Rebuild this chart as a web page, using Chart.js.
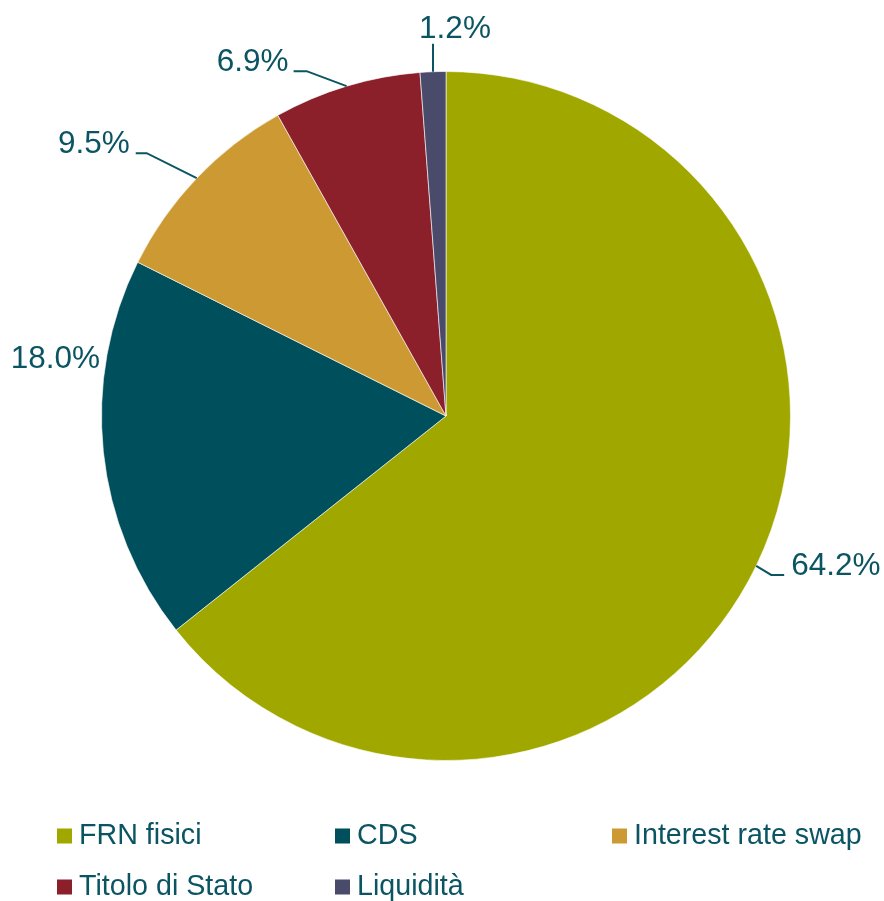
<!DOCTYPE html>
<html>
<head>
<meta charset="utf-8">
<title>Composizione del portafoglio</title>
<script src="https://cdn.jsdelivr.net/npm/chart.js@4/dist/chart.umd.min.js"></script>
<style>
  html, body { margin: 0; padding: 0; background: #ffffff; }
  #wrap { width: 884px; height: 901px; }
</style>
</head>
<body>
<div id="wrap"><canvas id="pie" width="884" height="901"></canvas></div>
<script>
// Portfolio composition (percent)
const categories = ['FRN fisici', 'CDS', 'Interest rate swap', 'Titolo di Stato', 'Liquidità'];
const shares = [64.2, 18.0, 9.5, 6.9, 1.2];
const sliceColors = ['#A0A800', '#004F5C', '#CC9933', '#8B1F2A', '#4A4A6B'];

const textColor = '#0B5563';
const fontFamily = '"Liberation Sans", Arial, Helvetica, sans-serif';

// Placement of each percentage label relative to the outer edge of its slice
// (elbow = bend of the leader line, run = horizontal part, line:false = no leader)
const labelLayout = [
  { line: true,  elbow: [15, 9],    run: 13,  align: 'left',   gap: 7 },
  { line: false, offset: [-48, -84], align: 'center' },
  { line: true,  elbow: [-50, -25], run: -11, align: 'right',  gap: 6 },
  { line: true,  elbow: [-40, -15], run: -13, align: 'right',  gap: 5 },
  { line: true,  elbow: [0, -28],   run: 0,   align: 'center', gap: 6, above: true, shiftX: 22 }
];

const pctLabels = {
  id: 'pctLabels',
  afterDatasetsDraw(chart) {
    const ctx = chart.ctx;
    const arcs = chart.getDatasetMeta(0).data;
    ctx.save();
    ctx.font = '31.5px ' + fontFamily;
    ctx.fillStyle = textColor;
    ctx.strokeStyle = textColor;
    ctx.lineWidth = 2;
    ctx.textBaseline = 'alphabetic';
    arcs.forEach((arc, i) => {
      const p = arc.getProps(['x', 'y', 'startAngle', 'endAngle', 'outerRadius'], true);
      const mid = (p.startAngle + p.endAngle) / 2;
      const ex = p.x + Math.cos(mid) * p.outerRadius;
      const ey = p.y + Math.sin(mid) * p.outerRadius;
      const L = labelLayout[i];
      const txt = shares[i].toFixed(1) + '%';
      if (!L.line) {
        ctx.textAlign = L.align;
        ctx.fillText(txt, ex + L.offset[0], ey + L.offset[1]);
        return;
      }
      const bx = ex + L.elbow[0], by = ey + L.elbow[1];
      const hx = bx + L.run;
      ctx.beginPath();
      ctx.moveTo(ex, ey);
      ctx.lineTo(bx, by);
      if (L.run !== 0) ctx.lineTo(hx, by);
      ctx.stroke();
      ctx.textAlign = L.align;
      if (L.above) {
        ctx.fillText(txt, hx + (L.shiftX || 0), by - L.gap);
      } else if (L.align === 'left') {
        ctx.fillText(txt, hx + L.gap, by);
      } else {
        ctx.fillText(txt, hx - L.gap, by);
      }
    });
    ctx.restore();
  }
};

// Three-column legend under the pie (slightly narrow lettering)
const gridLegend = {
  id: 'gridLegend',
  afterDraw(chart) {
    const ctx = chart.ctx;
    const colX = [57, 335, 612];
    const rowY = [836, 887];
    const box = 15;
    const squeeze = 0.955;
    ctx.save();
    ctx.font = '30px ' + fontFamily;
    ctx.textBaseline = 'middle';
    ctx.textAlign = 'left';
    categories.forEach((name, i) => {
      const x = colX[i % 3];
      const y = rowY[Math.floor(i / 3)];
      ctx.fillStyle = sliceColors[i];
      ctx.fillRect(x, y - box / 2, box, box);
      ctx.fillStyle = textColor;
      ctx.save();
      ctx.translate(x + 22, y);
      ctx.scale(squeeze, 1);
      ctx.fillText(name, 0, 0);
      ctx.restore();
    });
    ctx.restore();
  }
};

new Chart(document.getElementById('pie'), {
  type: 'pie',
  data: {
    labels: categories,
    datasets: [{
      data: shares,
      backgroundColor: sliceColors,
      borderColor: 'rgba(255,255,255,0.6)',
      borderWidth: 1
    }]
  },
  options: {
    responsive: false,
    animation: false,
    events: [],
    layout: { padding: { left: 101, right: 93, top: 71, bottom: 140 } },
    plugins: {
      legend: { display: false },
      tooltip: { enabled: false }
    }
  },
  plugins: [pctLabels, gridLegend]
});
</script>
</body>
</html>
